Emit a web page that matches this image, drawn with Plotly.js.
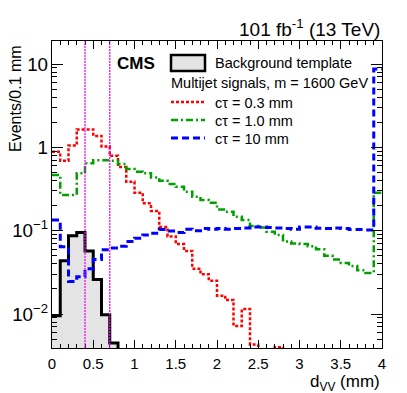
<!DOCTYPE html>
<html><head><meta charset="utf-8">
<script src="https://cdn.plot.ly/plotly-3.0.1.min.js"></script>
<style>html,body{margin:0;padding:0;background:#fff;} #plot{width:407px;height:393px;}</style>
</head><body><div id="plot"></div>
<script>
// bin edges of dVV (mm), 0.1 mm bins
const binEdges = [0.0,0.1,0.2,0.3,0.4,0.5,0.6,0.7,0.8,0.9,1.0,1.1,1.2,1.3,1.4,1.5,1.6,1.7,1.8,1.9,2.0,
                  2.1,2.2,2.3,2.4,2.5,2.6,2.7,2.8,2.9,3.0,3.1,3.2,3.3,3.4,3.5,3.6,3.7,3.8,3.9,4.0];
// Background template (events / 0.1 mm)
const bkgTemplate = [0.0095,0.0435,0.087,0.095,0.057,0.026,0.0098,0.0045,0,0,
                     0,0,0,0,0,0,0,0,0,0, 0,0,0,0,0,0,0,0,0,0, 0,0,0,0,0,0,0,0,0,0];
// Multijet signals, m = 1600 GeV
const sigCt03 = [0.885,0.69,1.05,1.64,1.64,1.37,1.02,0.79,0.58,0.387,
                 0.285,0.213,0.172,0.111,0.085,0.069,0.057,0.035,0.030,0.025,
                 0.0166,0.0147,0.0072,0.0115,0.0043,0,0,0.0040,0,0,
                 0,0,0,0,0,0,0,0,0,0];
const sigCt10 = [0.465,0.268,0.268,0.487,0.643,0.70,0.70,0.69,0.63,0.55,
                 0.51,0.487,0.436,0.397,0.363,0.336,0.293,0.255,0.233,0.216,
                 0.18,0.169,0.147,0.134,0.114,0.109,0.097,0.089,0.074,0.070,
                 0.069,0.065,0.060,0.050,0.045,0.041,0.0376,0.0336,0.031,0.285];
const sigCt100 = [0.134,0.064,0.0245,0.028,0.035,0.045,0.059,0.062,0.065,0.074,
                  0.081,0.089,0.093,0.103,0.099,0.095,0.104,0.10,0.106,0.104,
                  0.106,0.104,0.106,0.108,0.111,0.111,0.109,0.108,0.106,0.104,
                  0.111,0.111,0.107,0.106,0.108,0.106,0.103,0.103,0.102,8.7];
const cutValues = [0.4, 0.7];
const seriesNames = ['Background template','c\u03c4 = 0.3 mm','c\u03c4 = 1.0 mm','c\u03c4 = 10 mm'];
const headerText = 'Multijet signals, m = 1600 GeV';

const FONT = 'Liberation Sans, Arial, Helvetica, sans-serif';
// plot-area pixel box
const L = 52, R = 382, T = 41, B = 348;
const px = v => (v - L) / (R - L);
const py = v => (B - v) / (B - T);

// step-histogram helper: repeat last value at upper edge, zeros pushed off-scale
function stepY(vals) {
  const y = vals.map(v => v > 0 ? v : 1e-7);
  y.push(y[y.length - 1]);
  return y;
}

const styles = [
  {color:'#000000', width:3, dash:'solid'},
  {color:'#ff0000', width:2.5, dash:'3px,2px'},
  {color:'#00a000', width:2.5, dash:'7px,3px,2px,3px'},
  {color:'#0000ff', width:3, dash:'7px,4px'}
];
const allSeries = [bkgTemplate, sigCt03, sigCt10, sigCt100];

const traces = allSeries.map((s, i) => ({
  type:'scatter', mode:'lines', x: binEdges, y: stepY(s), name: seriesNames[i],
  line:{shape:'hv', color:styles[i].color, width:styles[i].width, dash:styles[i].dash},
  fill: i === 0 ? 'tozeroy' : 'none', fillcolor:'#e4e4e4',
  showlegend:false, hoverinfo:'skip'
}));

const shapes = cutValues.map(c => ({
  type:'line', xref:'x', yref:'paper', x0:c, x1:c, y0:0, y1:1,
  line:{color:'#ff00ff', width:1.3, dash:'2px,1px'}, layer:'above'
}));
// legend box and samples
shapes.push({type:'rect', xref:'paper', yref:'paper', x0:px(171), x1:px(205), y0:py(71), y1:py(55),
  fillcolor:'#e4e4e4', line:{color:'#000', width:2.5}});
const legY = [102, 120, 138];
for (let i = 1; i < 4; i++) {
  shapes.push({type:'line', xref:'paper', yref:'paper', x0:px(171), x1:px(205), y0:py(legY[i-1]), y1:py(legY[i-1]),
    line:{color:styles[i].color, width:styles[i].width, dash:styles[i].dash}});
}

const ann = (text, x, y, xa, extra) => Object.assign({text, xref:'paper', yref:'paper', x, y,
  xanchor:xa, yanchor:'middle', showarrow:false, font:{family:FONT, size:14.5, color:'#000'}}, extra||{});

const annotations = [
  ann('101 fb<sup>-1</sup> (13 TeV)', 1, py(28), 'right', {font:{family:FONT, size:19, color:'#000'}}),
  ann('<b>CMS</b>', px(115), py(63), 'left', {font:{family:FONT, size:17, color:'#000'}}),
  ann(seriesNames[0], px(213), py(63), 'left'),
  ann(headerText, px(169), py(83), 'left'),
  ann(seriesNames[1], px(213), py(103), 'left'),
  ann(seriesNames[2], px(213), py(121), 'left'),
  ann(seriesNames[3], px(213), py(139), 'left'),
  ann('d<sub>VV</sub> (mm)', 1, py(383), 'right', {font:{family:FONT, size:17, color:'#000'}}),
  {text:'Events/0.1 mm', xref:'paper', yref:'paper', x:px(15), y:py(99), xanchor:'center', yanchor:'middle',
   textangle:-90, showarrow:false, font:{family:FONT, size:16, color:'#000'}}
];

const layout = {
  width:407, height:393,
  margin:{l:L, r:407-R, t:T, b:393-B, pad:0},
  paper_bgcolor:'#fff', plot_bgcolor:'#fff',
  font:{family:FONT, size:15, color:'#000'},
  showlegend:false,
  xaxis:{range:[0,4], dtick:0.5, tick0:0, ticks:'inside', ticklen:8, tickwidth:1, tickcolor:'#000',
    showline:true, linecolor:'#000', linewidth:1, mirror:'allticks', showgrid:false, zeroline:false,
    ticklabelstandoff:2,
    minor:{dtick:0.1, ticks:'inside', ticklen:4, tickcolor:'#000', showgrid:false},
    tickfont:{family:FONT, size:15}},
  yaxis:{type:'log', range:[-2.408, 1.276], dtick:1, exponentformat:'power', ticks:'inside', ticklen:11,
    tickwidth:1, tickcolor:'#000', showline:true, linecolor:'#000', linewidth:1, mirror:'allticks',
    showgrid:false, zeroline:false,
    minor:{dtick:'D1', ticks:'inside', ticklen:5, tickcolor:'#000', showgrid:false},
    tickfont:{family:FONT, size:15}},
  shapes, annotations
};
Plotly.newPlot('plot', traces, layout, {staticPlot:true, displayModeBar:false});
</script></body></html>
